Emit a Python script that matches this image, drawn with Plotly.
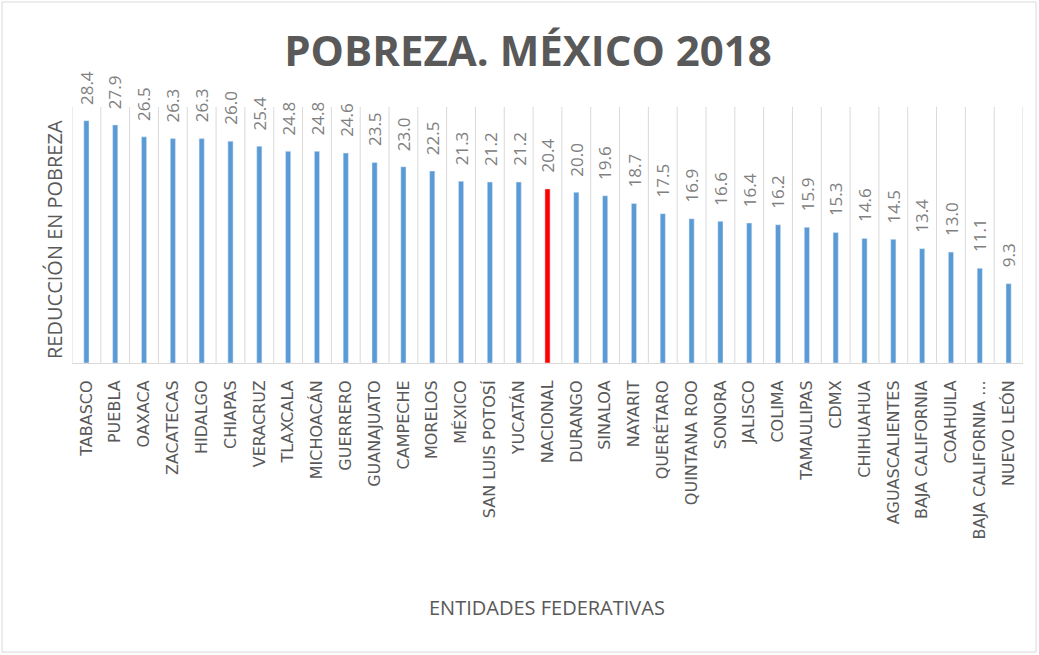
import plotly.graph_objects as go

states = ["TABASCO", "PUEBLA", "OAXACA", "ZACATECAS", "HIDALGO", "CHIAPAS", "VERACRUZ",
          "TLAXCALA", "MICHOACÁN", "GUERRERO", "GUANAJUATO", "CAMPECHE", "MORELOS", "MÉXICO",
          "SAN LUIS POTOSÍ", "YUCATÁN", "NACIONAL", "DURANGO", "SINALOA", "NAYARIT", "QUERÉTARO",
          "QUINTANA ROO", "SONORA", "JALISCO", "COLIMA", "TAMAULIPAS", "CDMX", "CHIHUAHUA",
          "AGUASCALIENTES", "BAJA CALIFORNIA", "COAHUILA", "BAJA CALIFORNIA ...", "NUEVO LEÓN"]
values = [28.4, 27.9, 26.5, 26.3, 26.3, 26.0, 25.4, 24.8, 24.8, 24.6, 23.5, 23.0, 22.5, 21.3,
          21.2, 21.2, 20.4, 20.0, 19.6, 18.7, 17.5, 16.9, 16.6, 16.4, 16.2, 15.9, 15.3, 14.6,
          14.5, 13.4, 13.0, 11.1, 9.3]
highlight = "NACIONAL"

colors = ["#FF0000" if s == highlight else "#5B9BD5" for s in states]

fig = go.Figure(go.Bar(
    x=states, y=values, marker_color=colors, width=0.18,
    hoverinfo="x+y", cliponaxis=False,
))

W, H = 1039, 655
L, R, T, B = 72, 16, 107, 292
pw, ph = W - L - R, H - T - B

def px(x):
    return (x - L) / pw

def py(y):
    return (H - B - y) / ph

annotations = [
    dict(x=s, y=v, xref="x", yref="y", text=f"{v:.1f}", textangle=-90,
         showarrow=False, xanchor="center", yanchor="bottom", yshift=14,
         font=dict(family="Open Sans", size=17, color="#808080"))
    for s, v in zip(states, values)
]
annotations += [
    dict(text="ENTIDADES FEDERATIVAS", xref="paper", yref="paper",
         x=px(547), y=py(607), xanchor="center", yanchor="middle", showarrow=False,
         font=dict(family="Open Sans", size=20, color="#595959")),
    dict(text="REDUCCIÓN EN POBREZA", xref="paper", yref="paper",
         x=px(54), y=py(240), xanchor="center", yanchor="middle", showarrow=False,
         textangle=-90,
         font=dict(family="Open Sans", size=20, color="#595959")),
]

fig.update_layout(
    width=W, height=H, margin=dict(l=L, r=R, t=T, b=B),
    paper_bgcolor="white", plot_bgcolor="white",
    showlegend=False,
    title=dict(text="<b>POBREZA. MÉXICO 2018</b>", x=528 / W, xanchor="center",
               y=1 - 51 / H, yanchor="middle",
               font=dict(family="Open Sans", size=42, color="#595959")),
    xaxis=dict(
        tickangle=-90, tickfont=dict(family="DejaVu Sans", size=16, color="#595959"),
        showgrid=False, showline=True, linecolor="#D9D9D9", linewidth=1,
        ticks="", automargin=False, ticklabelstandoff=10,
    ),
    yaxis=dict(
        range=[0, 30], showgrid=False, showticklabels=False, zeroline=False,
        showline=False, automargin=False,
    ),
    annotations=annotations,
)

shapes = []
n = len(states)
for i in range(n + 1):
    shapes.append(dict(type="line", xref="x", yref="paper", x0=i - 0.5, x1=i - 0.5,
                       y0=0, y1=1, line=dict(color="#D9D9D9", width=1), layer="below"))
shapes.append(dict(type="rect", xref="paper", yref="paper",
                   x0=px(2), x1=px(W - 3), y0=py(H - 3), y1=py(2),
                   line=dict(color="#D9D9D9", width=1)))
fig.update_layout(shapes=shapes)

fig.update_xaxes(range=[-0.5, n - 0.5])
fig.write_html("out.html", config={"displayModeBar": False},
               post_script="document.body.style.margin='0';")
